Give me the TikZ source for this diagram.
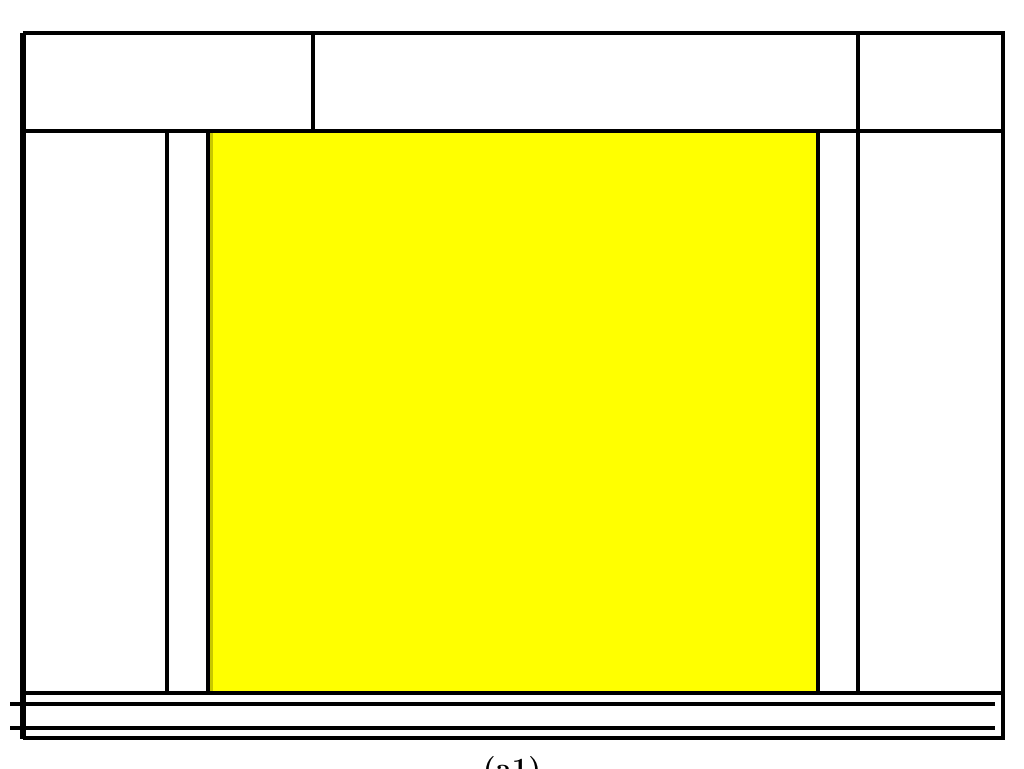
\documentclass[tikz,border=0pt]{standalone}
\definecolor{panelyellow}{RGB}{255,255,0}
\definecolor{paneledge}{RGB}{200,200,0}
\begin{document}
\begin{tikzpicture}[x=0.75pt,y=-0.75pt,
  ln/.style={line width=2.6pt,black},
  thick border/.style={line width=3.8pt,black}]
\useasboundingbox (0,0) rectangle (1024,768);
\fill[white] (0,0) rectangle (1024,768);
% yellow panel
\fill[panelyellow] (208,131) rectangle (818,693);
\fill[paneledge] (208,131) rectangle (213,693);
% outer frame
\draw[ln] (23,33) -- (1003,33) -- (1003,738) -- (23,738);
\draw[thick border] (23,33) -- (23,739);
% top row
\draw[ln] (23,131) -- (1003,131);
\draw[ln] (313,33) -- (313,131);
\draw[ln] (858,33) -- (858,693);
% verticals below
\draw[ln] (167,131) -- (167,693);
\draw[ln] (208,131) -- (208,693);
\draw[ln] (818,131) -- (818,693);
% bottom lines
\draw[ln] (23,693) -- (1003,693);
\draw[ln] (10,704) -- (995,704);
\draw[ln] (10,728) -- (995,728);
% caption (cut off at the page edge, as in the reference)
\node[anchor=north,font=\bfseries\fontsize{22}{26}\selectfont,inner sep=0pt] (cap) at (512,756) {(a1)};
\end{tikzpicture}
\end{document}
